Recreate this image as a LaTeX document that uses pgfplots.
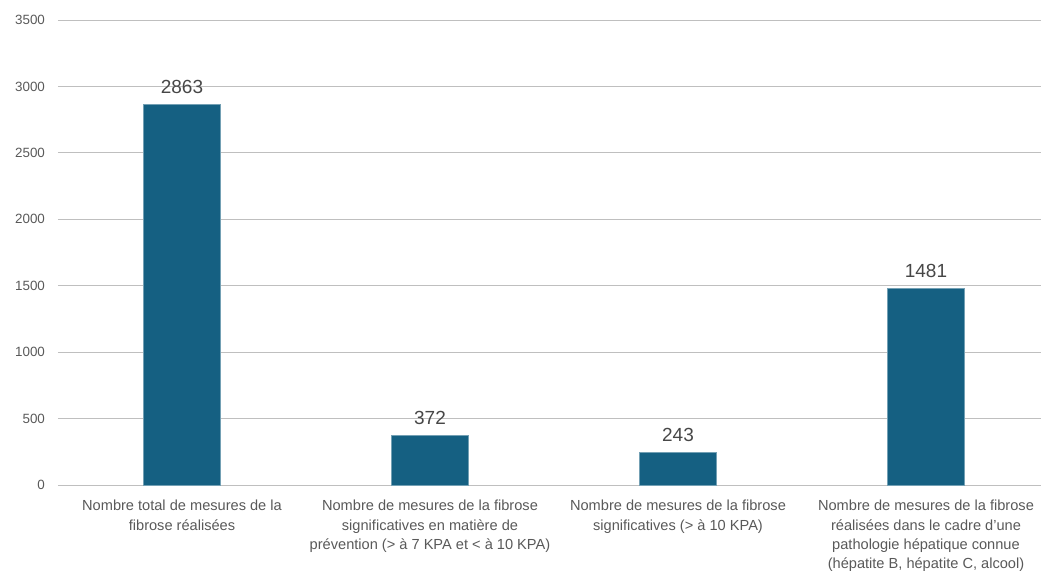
\documentclass[border=0pt]{standalone}
\usepackage{pgfplots}
\pgfplotsset{compat=1.18}
\usepackage{fontspec}
\setmainfont{Liberation Sans}
\definecolor{barc}{HTML}{156082}
\definecolor{txt}{HTML}{595959}
\definecolor{grid}{HTML}{DEDEDE}
\begin{document}
\begin{tikzpicture}
\useasboundingbox (-29pt,-42.5pt) rectangle (491.5pt,242.5pt);
\begin{axis}[
  at={(0,0)}, anchor=south west,
  scale only axis,
  width=496pt, height=232.5pt,
  xmin=-0.5, xmax=3.5,
  ymin=0, ymax=3500,
  ytick={0,500,...,3500},
  xtick={0,1,2,3},
  xticklabels={
    {Nombre total de mesures de la\\fibrose réalisées},
    {Nombre de mesures de la fibrose\\significatives en matière de\\prévention (> à 7 KPA et < à 10 KPA)},
    {Nombre de mesures de la fibrose\\significatives (> à 10 KPA)},
    {Nombre de mesures de la fibrose\\réalisées dans le cadre d’une\\pathologie hépatique connue\\(hépatite B, hépatite C, alcool)}
  },
  xticklabel style={align=center, font=\fontsize{7.3}{9.7}\selectfont, text=txt, yshift=-4pt},
  yticklabel style={font=\fontsize{6.7}{8}\selectfont, text=txt, xshift=-3pt},
  /pgf/number format/assume math mode=true,
  /pgf/number format/set thousands separator={},
  ymajorgrids, xmajorgrids=false,
  grid style={grid, line width=0.5pt},
  major tick length=0pt,
  axis line style={draw=none},
  ybar, bar width=0.31,
  nodes near coords,
  nodes near coords style={font=\fontsize{9.5}{11}\selectfont, text=txt!80!black, yshift=2pt},
  clip=false,
]
\addplot[fill=barc, draw=barc!60!white, line width=0.3pt] coordinates {(0,2863) (1,372) (2,243) (3,1481)};
\end{axis}
\end{tikzpicture}
\end{document}
